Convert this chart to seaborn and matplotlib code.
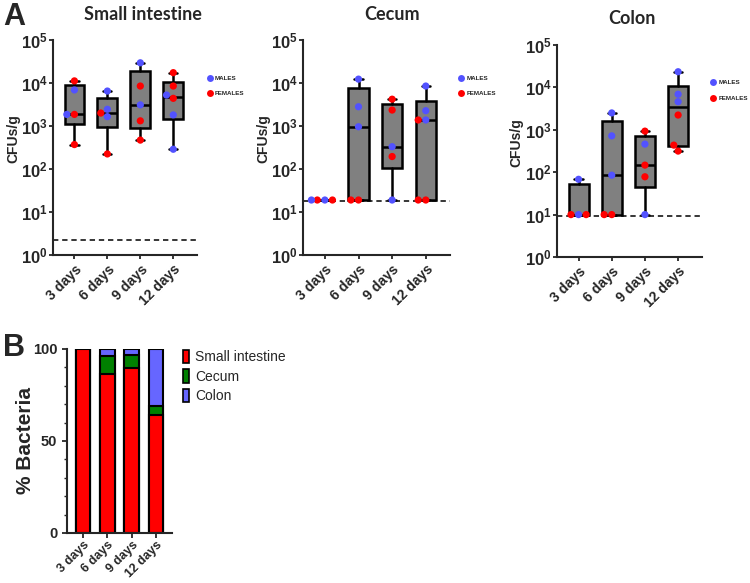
import numpy as np
import pandas as pd
import matplotlib
matplotlib.use("Agg")
import matplotlib.pyplot as plt
from matplotlib.lines import Line2D
from matplotlib.patches import Patch
import seaborn as sns
import warnings
warnings.filterwarnings("ignore")

sns.set_style("ticks")
plt.rcParams["font.family"] = ["Liberation Sans", "DejaVu Sans"]
plt.rcParams["mathtext.fontset"] = "custom"
plt.rcParams["mathtext.rm"] = "Liberation Sans"
plt.rcParams["mathtext.bf"] = "Liberation Sans:bold"

# ---------------- data ----------------
days = ["3 days", "6 days", "9 days", "12 days"]

si_vals = [[11200, 6900, 1860, 1860, 370],
           [6500, 2000, 2450, 1650, 224],
           [29500, 8500, 3100, 1320, 470],
           [17400, 8500, 4400, 5250, 1810, 288]]
si_sex = [["F", "M", "M", "F", "F"],
          ["M", "F", "M", "M", "F"],
          ["M", "F", "M", "F", "F"],
          ["F", "F", "F", "M", "M", "M"]]

ce_vals = [[19, 19, 19, 19],
           [12300, 2800, 960, 19, 19],
           [4200, 2350, 330, 195, 19],
           [8500, 2270, 1380, 1380, 19, 19]]
ce_sex = [["M", "F", "F", "M"],
          ["M", "M", "M", "F", "F"],
          ["F", "F", "M", "F", "M"],
          ["M", "M", "F", "M", "F", "F"]]

co_vals = [[68, 10, 10, 10],
           [2500, 720, 85, 10, 10],
           [930, 460, 147, 78, 10],
           [23400, 6900, 4600, 2230, 435, 315]]
co_sex = [["M", "M", "F", "F"],
          ["M", "M", "M", "F", "F"],
          ["F", "M", "F", "F", "M"],
          ["M", "M", "M", "F", "F", "F"]]

detection_limits = [2.2, 18, 9.2]
panel_titles = ["Small intestine", "Cecum", "Colon"]
sex_labels = {"M": "MALES", "F": "FEMALES"}

pct_small = [100, 86.2, 89.7, 64.1]
pct_cecum = [0, 9.8, 7.2, 5.1]
pct_colon = [0, 4.0, 3.1, 30.8]

# ---------------- style ----------------
c_male = "#5252FF"
c_female = "#FF0000"
c_box = "#808080"
c_si = "#FF0000"
c_ce = "#008000"
c_co = "#6666FF"

fig = plt.figure(figsize=(7.5, 5.83), dpi=100)
W, H = 750, 583


def rect(l, t, r, b):
    return [l / W, 1 - b / H, (r - l) / W, (b - t) / H]


axes_rects = [rect(53, 40, 197, 255), rect(303, 40, 450, 255), rect(557, 45, 702, 257)]
title_pos = [(143, 14), (392, 15), (632, 18)]
legend_x = [1.07, 1.06, 1.06]
ylabel_x = [-0.23, -0.22, -0.235]

for i, (vals, sexes) in enumerate([(si_vals, si_sex), (ce_vals, ce_sex), (co_vals, co_sex)]):
    ax = fig.add_axes(axes_rects[i])
    rows = []
    for d, vs, ss in zip(days, vals, sexes):
        for v, s in zip(vs, ss):
            rows.append({"day": d, "cfu": v, "sex": sex_labels[s]})
    df = pd.DataFrame(rows)
    ax.set_yscale("log")

    stats = []
    for vs in vals:
        a = np.array(vs, dtype=float)
        stats.append({"med": np.median(a),
                      "q1": np.percentile(a, 25, method="weibull"),
                      "q3": np.percentile(a, 75, method="weibull"),
                      "whislo": a.min(), "whishi": a.max(), "fliers": []})
    ax.bxp(stats, positions=range(4), widths=0.6, patch_artist=True,
           showfliers=False, capwidths=0.25,
           boxprops=dict(facecolor=c_box, edgecolor="black", linewidth=1.8),
           medianprops=dict(color="black", linewidth=1.8),
           whiskerprops=dict(color="black", linewidth=1.8),
           capprops=dict(color="black", linewidth=1.8), zorder=2)

    sns.swarmplot(data=df, x="day", y="cfu", hue="sex", order=days,
                  hue_order=["MALES", "FEMALES"],
                  palette={"MALES": c_male, "FEMALES": c_female},
                  size=5.2, linewidth=0, ax=ax, legend=False, zorder=3,
                  native_scale=False)
    ax.axhline(detection_limits[i], color="black", linestyle=(0, (3.5, 2.5)),
               linewidth=1.1, zorder=1)

    ax.set_yscale("log")
    ax.set_ylim(1, 1e5)
    ax.set_xlim(-0.65, 3.72)
    ax.set_yticks([1, 10, 100, 1e3, 1e4, 1e5])
    ax.set_yticklabels([r"$\mathbf{10^{%d}}$" % k for k in range(6)], fontsize=12)
    ax.yaxis.set_minor_locator(matplotlib.ticker.NullLocator())
    ax.set_xticks(range(4))
    ax.set_xticklabels(days, rotation=45, ha="right", rotation_mode="anchor",
                       fontsize=10, fontweight="bold")
    ax.set_xlabel("")
    ax.set_ylabel("CFUs/g", fontsize=10, fontweight="bold")
    ax.yaxis.set_label_coords(ylabel_x[i], 0.54)
    for s in ["top", "right"]:
        ax.spines[s].set_visible(False)
    for s in ["left", "bottom"]:
        ax.spines[s].set_linewidth(1.5)
    ax.tick_params(axis="both", width=1.3, length=3)
    ax.tick_params(axis="x", pad=2)
    ax.tick_params(axis="y", pad=0.5)

    handles = [Line2D([0], [0], marker="o", color="none", markerfacecolor=c_male,
                      markeredgecolor="none", markersize=5, label="MALES"),
               Line2D([0], [0], marker="o", color="none", markerfacecolor=c_female,
                      markeredgecolor="none", markersize=5, label="FEMALES")]
    ax.legend(handles=handles, loc="upper left", bbox_to_anchor=(legend_x[i], 0.835),
              frameon=False, prop={"size": 4.5, "weight": "bold"},
              handlelength=0.8, handletextpad=0.4, labelspacing=1.6,
              borderaxespad=0, borderpad=0)

    tx, ty = title_pos[i]
    fig.text(tx / W, 1 - ty / H, panel_titles[i], ha="center", va="center",
             fontsize=13, fontweight="bold", family=["Lato", "DejaVu Sans"])

fig.text(3 / W, 1 - 17 / H, "A", ha="left", va="center", fontsize=22, fontweight="bold")
fig.text(3 / W, 1 - 348 / H, "B", ha="left", va="center", fontsize=22, fontweight="bold")

# ---------------- panel B ----------------
axb = fig.add_axes(rect(67, 349, 172, 533))
cum_ce = [a + b for a, b in zip(pct_small, pct_cecum)]
cum_co = [a + b for a, b in zip(cum_ce, pct_colon)]
dfb = pd.DataFrame({"day": days, "small": pct_small, "cecum": cum_ce, "colon": cum_co})
for col, c in [("colon", c_co), ("cecum", c_ce), ("small", c_si)]:
    sns.barplot(data=dfb, x="day", y=col, order=days, color=c, edgecolor="black",
                linewidth=1.5, width=0.6, ax=axb, saturation=1)
axb.set_ylim(0, 100)
axb.set_xlim(-0.66, 3.66)
axb.set_yticks([0, 50, 100])
axb.set_yticklabels(["0", "50", "100"], fontsize=10.5, fontweight="bold")
axb.yaxis.set_minor_locator(matplotlib.ticker.MultipleLocator(10))
axb.set_xticks(range(4))
axb.set_xticklabels(days, rotation=45, ha="right", rotation_mode="anchor",
                    fontsize=9, fontweight="bold")
axb.set_xlabel("")
axb.set_ylabel("% Bacteria", fontsize=15, fontweight="bold")
axb.yaxis.set_label_coords(-0.30, 0.5)
for s in ["top", "right"]:
    axb.spines[s].set_visible(False)
for s in ["left", "bottom"]:
    axb.spines[s].set_linewidth(1.5)
axb.tick_params(axis="both", which="major", width=1.3, length=3.5)
axb.tick_params(axis="y", which="minor", width=1.0, length=2)
axb.tick_params(axis="x", pad=1)

leg_handles = [Patch(facecolor=c_si, edgecolor="black", linewidth=1.2, label="Small intestine"),
               Patch(facecolor=c_ce, edgecolor="black", linewidth=1.2, label="Cecum"),
               Patch(facecolor=c_co, edgecolor="black", linewidth=1.2, label="Colon")]
fig.legend(handles=leg_handles, loc="upper left", bbox_to_anchor=(183 / W, 1 - 350 / H),
           frameon=False, fontsize=10, handlelength=0.45, handleheight=1.1,
           handletextpad=0.4, labelspacing=0.35, borderpad=0, borderaxespad=0)

fig.savefig("out.png", dpi=100)
